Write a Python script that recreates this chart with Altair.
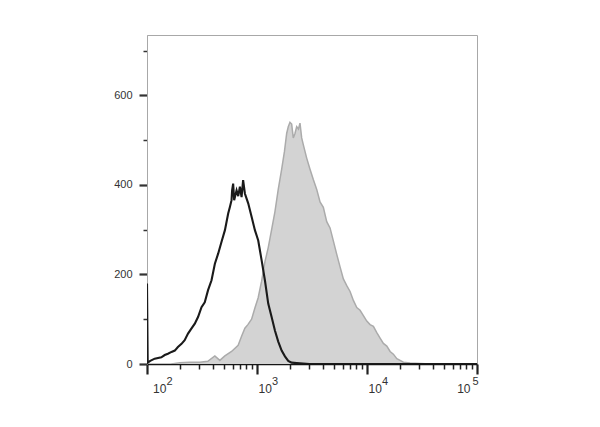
import altair as alt
import pandas as pd

# Control (black outline histogram)
black_x = [100, 101.5, 107, 117.5, 135, 145, 155, 167, 179, 191, 206, 220, 236, 253, 272, 291,
           313, 335, 359, 386, 414, 444, 476, 511, 547, 567, 587, 594, 607, 620, 652, 675,
           699, 724, 748, 776, 803, 832, 893, 957, 1026, 1101, 1180, 1265, 1358, 1455, 1560,
           1675, 1795, 1923, 2064, 2296, 2620, 3000, 100000]
black_y = [180, 3, 7, 12, 15, 20, 23, 27, 30, 38, 45, 53, 68, 79, 90, 105,
           127, 138, 165, 187, 224, 247, 273, 299, 336, 351, 366, 388, 403, 366, 388, 375,
           396, 373, 411, 381, 370, 359, 329, 299, 276, 232, 187, 135, 105, 75, 50,
           30, 17, 7, 3, 2, 1, 0, 0]

# Stained sample (grey filled histogram)
grey_x = [166.8, 198.5, 244.8, 302, 357, 413.7, 459.4, 510.3, 587, 674, 724, 776, 826, 893,
          957, 1025, 1101, 1180, 1265, 1358, 1455, 1560, 1675, 1777, 1861, 1924, 1994, 2066,
          2137, 2214, 2295, 2383, 2459, 2548, 2635, 2829, 3033, 3250, 3490, 3741, 4009, 4304,
          4613, 4943, 5309, 5689, 6096, 6546, 7015, 7517, 8072, 8650, 9269, 9954, 10666,
          11429, 12273, 13151, 14093, 15134, 16218, 17378, 18661, 19997, 21429, 24660,
          30460, 37560]
grey_y = [0, 3, 4, 4, 6, 18, 8, 18, 28, 42, 62, 80, 88, 100,
          125, 148, 185, 228, 260, 300, 340, 390, 435, 475, 515, 530, 540, 536,
          505, 515, 530, 525, 538, 505, 490, 460, 435, 412, 390, 362, 350, 318,
          304, 275, 245, 217, 190, 175, 162, 142, 126, 120, 108, 96, 88,
          84, 70, 58, 46, 40, 28, 22, 12, 8, 4, 2,
          1, 0]

x_ticks = [100, 200, 300, 400, 500, 600, 700, 800, 900,
           1000, 2000, 3000, 4000, 5000, 6000, 7000, 8000, 9000,
           10000, 20000, 30000, 40000, 50000, 60000, 70000, 80000, 90000, 100000]
x_label_pos = [100, 1000, 10000, 100000]
x_label_base = ["10", "10", "10", "10"]
x_label_exp = ["2", "3", "4", "5"]
y_ticks = [0, 50, 100, 150, 200, 250, 300, 350, 400, 450, 500, 550, 600, 650, 700]

black = pd.DataFrame({"x": black_x, "y": black_y})
grey = pd.DataFrame({"x": grey_x, "y": grey_y})
xlab = pd.DataFrame({"x": x_label_pos, "base": x_label_base, "exp": x_label_exp})

x_major_test = " || ".join(f"datum.value == {v}" for v in x_label_pos)

FONT = "Liberation Sans"
H = 329

x_scale = alt.Scale(type="log", domain=[100, 100000], nice=False)
x_enc = alt.X("x:Q", scale=x_scale,
              axis=alt.Axis(values=x_ticks, title=None, grid=False, labels=False,
                            tickSize={"condition": {"test": x_major_test, "value": 10}, "value": 5},
                            tickWidth={"condition": {"test": x_major_test, "value": 2.2}, "value": 1.5},
                            tickColor="#222222", domainColor="#151515", domainWidth=1.6))
y_enc = alt.Y("y:Q",
              scale=alt.Scale(domain=[0, 735], nice=False, zero=True),
              axis=alt.Axis(values=y_ticks, title=None, grid=False,
                            labelExpr="datum.value % 200 === 0 ? datum.label : ''",
                            tickSize={"condition": {"test": "datum.value % 200 === 0", "value": 8}, "value": 4},
                            tickWidth={"condition": {"test": "datum.value % 200 === 0", "value": 2.2}, "value": 1.5},
                            tickColor="#333333", domainColor="#a8a8a8", domainWidth=1,
                            labelFont=FONT, labelFontSize=11, labelColor="#333333",
                            labelPadding=7))

grey_area = alt.Chart(grey).mark_area(color="#d3d3d3", opacity=1, clip=True).encode(x=x_enc, y=y_enc)
grey_line = alt.Chart(grey).mark_line(color="#ababab", strokeWidth=1.5, clip=True).encode(x="x:Q", y="y:Q")
black_line = alt.Chart(black).mark_line(color="#1a1a1a", strokeWidth=2.1, clip=True).encode(x="x:Q", y="y:Q")


def label_layer(test, field, align, dx, baseline_y, size):
    return alt.Chart(xlab).transform_filter(test).mark_text(
        align=align, baseline="alphabetic", dx=dx, font=FONT, fontSize=size, color="#333333"
    ).encode(x=alt.X("x:Q", scale=x_scale), y=alt.value(baseline_y), text=f"{field}:N")


BASE_Y = H + 28.5
EXP_Y = H + 21
labels = [
    label_layer("datum.x == 100", "base", "left", 6, BASE_Y, 12),
    label_layer("datum.x == 100", "exp", "left", 19.5, EXP_Y, 11),
    label_layer("datum.x == 1000 || datum.x == 10000", "base", "left", 1.5, BASE_Y, 12),
    label_layer("datum.x == 1000 || datum.x == 10000", "exp", "left", 15, EXP_Y, 11),
    label_layer("datum.x == 100000", "base", "right", -6.5, BASE_Y, 12),
    label_layer("datum.x == 100000", "exp", "right", 1.5, EXP_Y, 11),
]

chart = alt.layer(grey_area, grey_line, black_line, *labels).properties(
    width=330, height=H,
    autosize=alt.AutoSizeParams(type="none"),
    padding={"left": 139, "top": 27, "right": 115, "bottom": 55},
    background="white",
).configure_view(stroke="#a8a8a8", strokeWidth=1)

chart.save("out.html", embed_options={"renderer": "svg", "actions": False})
